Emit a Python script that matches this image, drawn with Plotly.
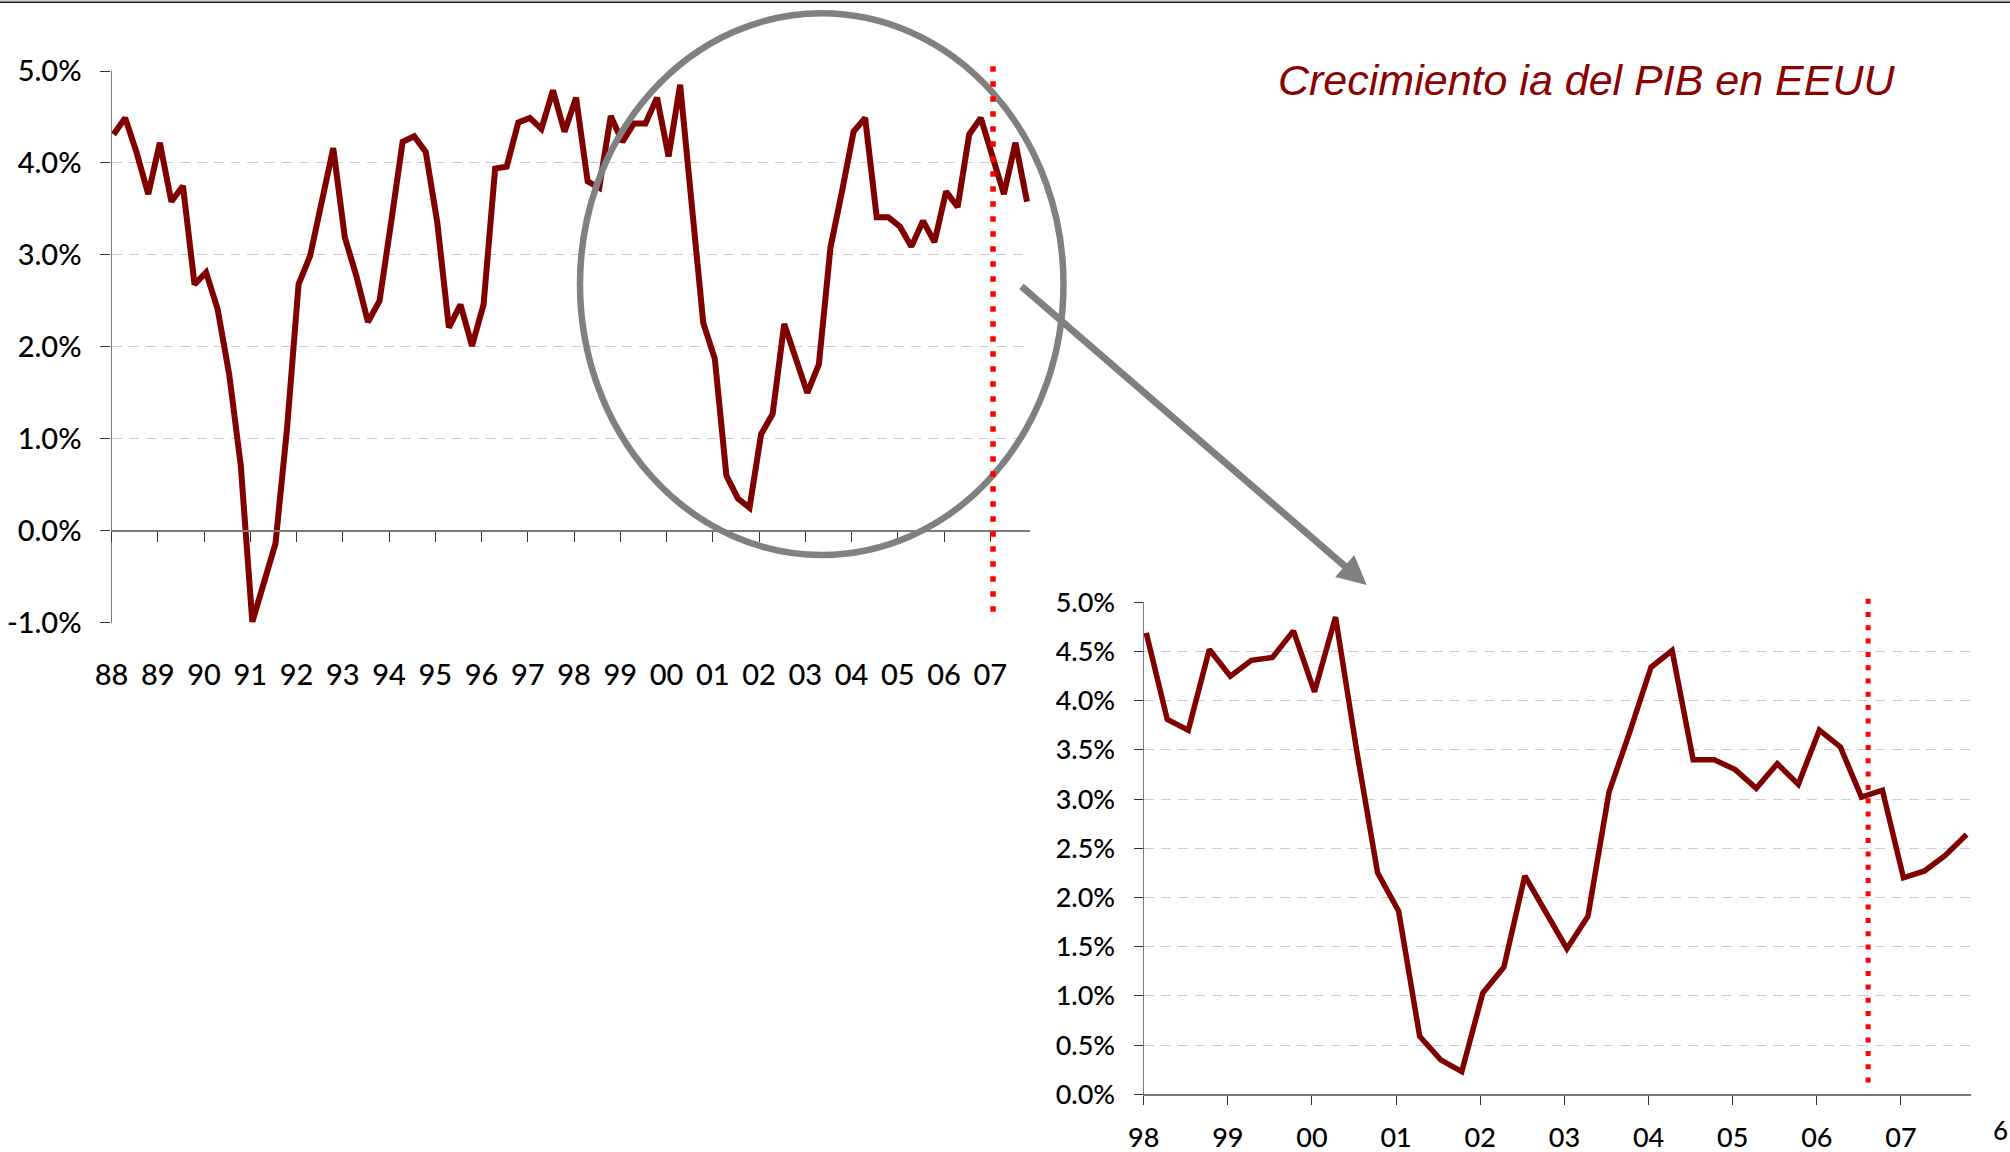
import plotly.graph_objects as go

W, H = 2010, 1152

# ---------------- data ----------------
top_start_year = 1988
top_values = [
    4.31, 4.49, 4.11, 3.66, 4.22, 3.58, 3.75, 2.68, 2.81, 2.41,
    1.70, 0.71, -0.99, -0.57, -0.14, 1.11, 2.68, 2.99, 3.55, 4.16,
    3.19, 2.77, 2.27, 2.50, 3.35, 4.23, 4.29, 4.12, 3.35, 2.21,
    2.46, 2.01, 2.46, 3.94, 3.96, 4.44, 4.49, 4.37, 4.79, 4.34,
    4.71, 3.80, 3.73, 4.51, 4.23, 4.43, 4.43, 4.71, 4.07, 4.85,
    3.55, 2.26, 1.87, 0.60, 0.35, 0.25, 1.05, 1.27, 2.25, 1.88,
    1.50, 1.81, 3.08, 3.69, 4.34, 4.49, 3.41, 3.41, 3.31, 3.09,
    3.37, 3.14, 3.69, 3.52, 4.31, 4.49, 4.05, 3.66, 4.22, 3.58,
]
top_year_labels = ['88', '89', '90', '91', '92', '93', '94', '95', '96', '97',
                   '98', '99', '00', '01', '02', '03', '04', '05', '06', '07']
top_marker_year = 2007.06

zoom_start_year = 1998
zoom_values = [
    4.69, 3.81, 3.70, 4.52, 4.25, 4.41, 4.44, 4.71, 4.09, 4.85,
    3.50, 2.25, 1.86, 0.59, 0.35, 0.23, 1.03, 1.29, 2.22, 1.86,
    1.48, 1.81, 3.07, 3.69, 4.34, 4.51, 3.40, 3.40, 3.30, 3.11,
    3.36, 3.15, 3.70, 3.53, 3.02, 3.09, 2.20, 2.27, 2.43, 2.64,
]
zoom_year_labels = ['98', '99', '00', '01', '02', '03', '04', '05', '06', '07']
zoom_marker_year = 2006.61

title_text = "Crecimiento ia del PIB en EEUU"
page_number = "6"

# ---------------- geometry helpers ----------------
def fx(px):
    return px / W

def fy(py):
    return 1 - py / H

TOP = dict(l=111.5, r=1030.0, t=71.0, b=622.7)
ZOOM = dict(l=1143.7, r=1970.7, t=602.3, b=1094.3)
TOP_PX_PER_YEAR = 46.25
ZOOM_PX_PER_YEAR = 84.14

top_x = [top_start_year + i / 4 + 0.045 for i in range(len(top_values))]
zoom_x = [zoom_start_year + i / 4 + 0.03 for i in range(len(zoom_values))]

top_xrange = [top_start_year, top_start_year + (TOP['r'] - TOP['l']) / TOP_PX_PER_YEAR]
zoom_xrange = [zoom_start_year, zoom_start_year + (ZOOM['r'] - ZOOM['l']) / ZOOM_PX_PER_YEAR]
top_yrange = [-1.0, 5.0]
zoom_yrange = [0.0, 5.0]

top_tick_years = [top_start_year + k for k in range(len(top_year_labels))]
zoom_tick_years = [zoom_start_year + k for k in range(len(zoom_year_labels))]
top_yticks = [-1.0 + k for k in range(7)]
zoom_yticks = [0.5 * k for k in range(11)]

LINE_COLOR = '#800000'
AXIS_COLOR = '#7a7a7a'
TICK_COLOR = '#333333'
FONT = 'Lato, Open Sans, sans-serif'
WEIGHT = 500
GRID = dict(showgrid=True, gridcolor='#CDCDCD', gridwidth=1.3, griddash='10px,7px')

top_y_dom = [fy(TOP['b']), fy(TOP['t'])]
zero_paper_y = top_y_dom[0] + (0 - top_yrange[0]) / (top_yrange[1] - top_yrange[0]) * (top_y_dom[1] - top_y_dom[0])

fig = go.Figure()
fig.add_trace(go.Scatter(x=top_x, y=top_values, mode='lines',
                         line=dict(color=LINE_COLOR, width=6),
                         xaxis='x', yaxis='y', hoverinfo='skip'))
fig.add_trace(go.Scatter(x=[None], y=[None], mode='lines', xaxis='x2', yaxis='y',
                         hoverinfo='skip'))
fig.add_trace(go.Scatter(x=zoom_x, y=zoom_values, mode='lines',
                         line=dict(color=LINE_COLOR, width=5.5),
                         xaxis='x3', yaxis='y2', hoverinfo='skip'))

fig.update_layout(
    template='none',
    width=W, height=H, autosize=False,
    margin=dict(l=0, r=0, t=0, b=0, pad=0),
    paper_bgcolor='white', plot_bgcolor='rgba(0,0,0,0)',
    showlegend=False,
    xaxis=dict(domain=[fx(TOP['l']), fx(TOP['r'])], anchor='y', range=top_xrange,
               automargin=False,
               tickmode='array', tickvals=top_tick_years, ticktext=top_year_labels,
               showline=False, ticks='', showgrid=False, zeroline=False,
               tickfont=dict(family=FONT, size=29, color='black', weight=WEIGHT),
               ticklabelstandoff=32),
    xaxis2=dict(overlaying='x', anchor='free', position=zero_paper_y, range=top_xrange,
                automargin=False,
                tickmode='array', tickvals=top_tick_years, showticklabels=False,
                ticks='outside', ticklen=10, tickwidth=1.3, tickcolor=TICK_COLOR,
                showline=True, linecolor=AXIS_COLOR, linewidth=1.6,
                showgrid=False, zeroline=False),
    yaxis=dict(domain=top_y_dom, anchor='x', range=top_yrange, automargin=False,
               tickmode='array', tickvals=top_yticks,
               ticktext=[f"{v:.1f}%" for v in top_yticks],
               showline=True, linecolor=AXIS_COLOR, linewidth=1.3,
               ticks='outside', ticklen=10, tickwidth=1.3, tickcolor=TICK_COLOR,
               zeroline=False,
               tickfont=dict(family=FONT, size=29, color='black', weight=WEIGHT),
               ticklabelstandoff=13, **GRID),
    xaxis3=dict(domain=[fx(ZOOM['l']), fx(ZOOM['r'])], anchor='y2', range=zoom_xrange,
                automargin=False,
                tickmode='array', tickvals=zoom_tick_years, ticktext=zoom_year_labels,
                showline=True, linecolor=AXIS_COLOR, linewidth=1.6,
                ticks='outside', ticklen=9, tickwidth=1.3, tickcolor=TICK_COLOR,
                showgrid=False, zeroline=False,
                tickfont=dict(family=FONT, size=27, color='black', weight=WEIGHT),
                ticklabelstandoff=9),
    yaxis2=dict(domain=[fy(ZOOM['b']), fy(ZOOM['t'])], anchor='x3', range=zoom_yrange,
                automargin=False,
                tickmode='array', tickvals=zoom_yticks,
                ticktext=[f"{v:.1f}%" for v in zoom_yticks],
                showline=True, linecolor=AXIS_COLOR, linewidth=1.3,
                ticks='outside', ticklen=9, tickwidth=1.3, tickcolor=TICK_COLOR,
                zeroline=False,
                tickfont=dict(family=FONT, size=27, color='black', weight=WEIGHT),
                ticklabelstandoff=13, **GRID),
)

shapes = [
    # page top rule
    dict(type='line', xref='paper', yref='paper', x0=0, x1=1, y0=fy(0.7), y1=fy(0.7),
         line=dict(color='#d0d0d0', width=1.5)),
    dict(type='line', xref='paper', yref='paper', x0=0, x1=1, y0=fy(2.3), y1=fy(2.3),
         line=dict(color='#1e1e1e', width=1.6)),
    # magnifier ellipse
    dict(type='circle', xref='paper', yref='paper',
         x0=fx(580), x1=fx(1063.5), y0=fy(555), y1=fy(13.3),
         line=dict(color='#808080', width=6.5), layer='above'),
    # red dotted markers
    dict(type='line', xref='x', yref='y domain',
         x0=top_marker_year, x1=top_marker_year,
         y0=(-0.88 - top_yrange[0]) / (top_yrange[1] - top_yrange[0]),
         y1=(5.07 - top_yrange[0]) / (top_yrange[1] - top_yrange[0]),
         line=dict(color='#FF0000', width=5.5, dash='5.5px,9.5px'), layer='above'),
    dict(type='line', xref='x3', yref='y2 domain',
         x0=zoom_marker_year, x1=zoom_marker_year,
         y0=(0.12 - zoom_yrange[0]) / (zoom_yrange[1] - zoom_yrange[0]),
         y1=(5.06 - zoom_yrange[0]) / (zoom_yrange[1] - zoom_yrange[0]),
         line=dict(color='#FF0000', width=5, dash='5px,8.3px'), layer='above'),
]
fig.update_layout(shapes=shapes)

annotations = [
    dict(x=fx(1366.7), y=fy(585), xref='paper', yref='paper', text='',
         showarrow=True, ax=-346.7, ay=-300, axref='pixel', ayref='pixel',
         arrowhead=2, arrowsize=0.83, arrowwidth=7, arrowcolor='#808080', standoff=0),
    dict(x=fx(1277), y=fy(80), xref='paper', yref='paper', xanchor='left', yanchor='middle',
         text='<i>' + title_text + '</i>', showarrow=False, borderpad=0,
         font=dict(family='Liberation Sans, Arial, sans-serif', size=43, color='#8B0000')),
    dict(x=fx(1992), y=fy(1130), xref='paper', yref='paper', xanchor='left', yanchor='middle',
         text=page_number, showarrow=False, borderpad=0,
         font=dict(family=FONT, size=26, color='black', weight=WEIGHT)),
]
fig.update_layout(annotations=annotations)

fig.write_html("out.html", config={'displayModeBar': False},
               post_script="document.body.style.margin='0';")
